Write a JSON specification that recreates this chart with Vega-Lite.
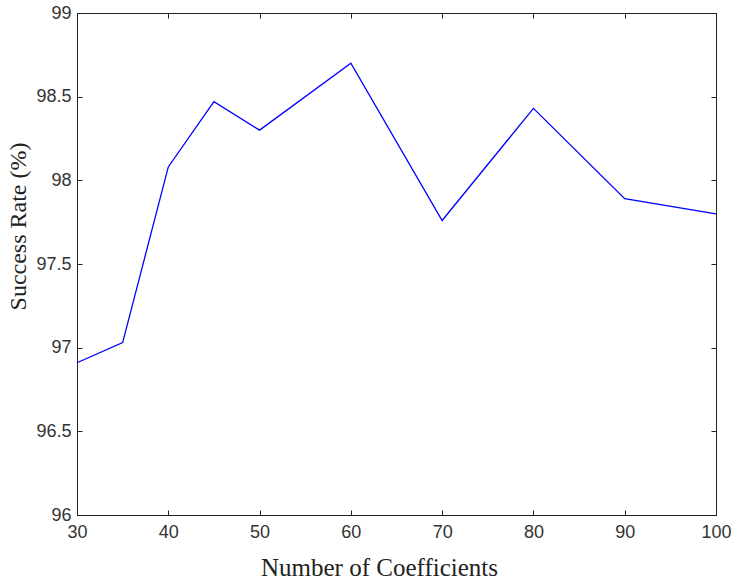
{
  "$schema": "https://vega.github.io/schema/vega-lite/v6.json",
  "width": 639,
  "height": 502,
  "autosize": {"type": "none"},
  "padding": {"left": 77, "top": 13, "right": 16, "bottom": 65},
  "background": "white",
  "config": {
    "view": {"stroke": "#222", "strokeWidth": 1},
    "axis": {
      "grid": false,
      "domainColor": "#222",
      "tickColor": "#222",
      "labelFont": "Liberation Sans",
      "labelFontSize": 18,
      "labelColor": "#333",
      "titleFont": "Liberation Serif",
      "titleFontWeight": "normal",
      "titleColor": "#222"
    }
  },
  "data": {
    "values": [
      {"n": 30, "rate": 96.91},
      {"n": 35, "rate": 97.03},
      {"n": 40, "rate": 98.08},
      {"n": 45, "rate": 98.47},
      {"n": 50, "rate": 98.3},
      {"n": 60, "rate": 98.7},
      {"n": 70, "rate": 97.76},
      {"n": 80, "rate": 98.43},
      {"n": 90, "rate": 97.89},
      {"n": 100, "rate": 97.8}
    ]
  },
  "layer": [
    {
      "mark": {"type": "line", "color": "#0000ff", "strokeWidth": 1.3},
      "encoding": {
        "x": {
          "field": "n", "type": "quantitative",
          "scale": {"domain": [30, 100], "nice": false, "zero": false},
          "axis": {
            "title": "Number of Coefficients",
            "values": [30, 40, 50, 60, 70, 80, 90, 100],
            "format": "d",
            "tickSize": -5,
            "labelPadding": 13,
            "labelFlush": false,
            "titleFontSize": 25,
            "titleX": 302,
            "titleY": 60,
            "titleBaseline": "alphabetic"
          }
        },
        "y": {
          "field": "rate", "type": "quantitative",
          "scale": {"domain": [96, 99], "nice": false, "zero": false},
          "axis": {
            "title": "Success Rate (%)",
            "values": [96, 96.5, 97, 97.5, 98, 98.5, 99],
            "format": "~g",
            "tickSize": -5,
            "labelPadding": 11,
            "labelFlush": false,
            "titleFontSize": 24,
            "titleAngle": -90,
            "titleX": -59,
            "titleY": 213,
            "titleAlign": "center",
            "titleBaseline": "middle"
          }
        }
      }
    },
    {
      "mark": {"type": "line", "opacity": 0},
      "encoding": {
        "x": {
          "field": "n", "type": "quantitative",
          "axis": {"orient": "top", "labels": false, "title": null, "tickSize": -5, "values": [30, 40, 50, 60, 70, 80, 90, 100]}
        },
        "y": {
          "field": "rate", "type": "quantitative",
          "axis": {"orient": "right", "labels": false, "title": null, "tickSize": -5, "values": [96, 96.5, 97, 97.5, 98, 98.5, 99]}
        }
      }
    }
  ],
  "resolve": {"axis": {"x": "independent", "y": "independent"}}
}
